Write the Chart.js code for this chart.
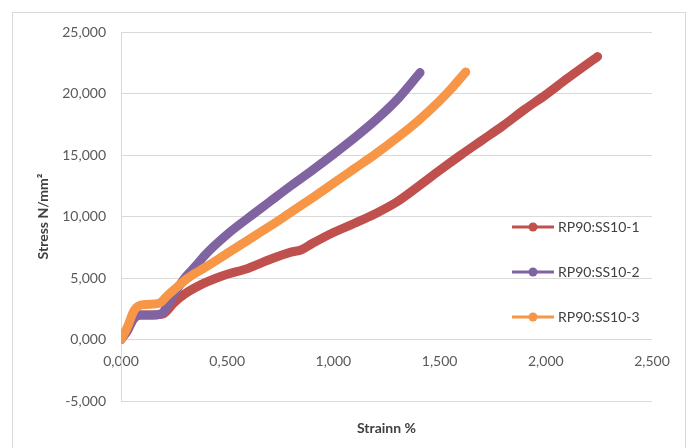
<!DOCTYPE html>
<html>
<head>
<meta charset="utf-8">
<script src="https://cdn.jsdelivr.net/npm/chart.js@4.4.1/dist/chart.umd.min.js"></script>
<style>
  html, body { margin: 0; padding: 0; background: #fff; }
  #wrap { width: 688px; height: 448px; }
</style>
</head>
<body>
<div id="wrap"><canvas id="lineChart" width="688" height="448"></canvas></div>
<script>
// strain (%) and stress (N/mm²)
var strain1 = [0, 0.03, 0.06, 0.09, 0.15, 0.2, 0.25, 0.3, 0.37, 0.45, 0.5, 0.6, 0.7, 0.8, 0.85, 0.9, 1.0, 1.1, 1.2, 1.3, 1.4, 1.5, 1.6, 1.7, 1.8, 1.9, 2.0, 2.1, 2.244];
var stress1 = [0, 0.7, 1.7, 2.0, 2.0, 2.1, 3.0, 3.7, 4.4, 5.0, 5.3, 5.8, 6.5, 7.1, 7.3, 7.8, 8.7, 9.45, 10.25, 11.2, 12.45, 13.75, 15.0, 16.2, 17.4, 18.7, 19.9, 21.2, 23.0];

var strain2 = [0, 0.03, 0.06, 0.09, 0.15, 0.19, 0.22, 0.25, 0.3, 0.35, 0.4, 0.5, 0.6, 0.7, 0.8, 0.9, 1.0, 1.1, 1.2, 1.3, 1.408];
var stress2 = [0, 0.8, 1.7, 2.0, 2.0, 2.1, 2.8, 3.7, 5.0, 5.95, 6.95, 8.55, 9.9, 11.2, 12.5, 13.75, 15.05, 16.4, 17.85, 19.5, 21.7];

var strain3 = [0, 0.03, 0.06, 0.08, 0.12, 0.18, 0.22, 0.26, 0.315, 0.4, 0.5, 0.6, 0.7, 0.77, 0.9, 1.0, 1.1, 1.2, 1.3, 1.4, 1.5, 1.55, 1.623];
var stress3 = [0, 1.0, 2.3, 2.7, 2.85, 2.95, 3.6, 4.2, 5.0, 5.9, 7.0, 8.1, 9.2, 10.0, 11.5, 12.7, 13.9, 15.1, 16.4, 17.8, 19.4, 20.3, 21.75];

var seriesNames = ['RP90:SS10-1', 'RP90:SS10-2', 'RP90:SS10-3'];
var seriesColors = ['#C0504D', '#8064A2', '#F79646'];
var xTitle = 'Strainn %';
var yTitle = 'Stress N/mm²';

function pts(xs, ys) {
    return xs.map(function(x, i) { return {x: x, y: ys[i]}; });
}
function comma(v) {
    return Number(v).toFixed(3).replace('.', ',');
}

var extras = {
    id: 'extras',
    beforeDraw: function(chart) {
        var c = chart.ctx;
        c.save();
        c.strokeStyle = '#d9d9d9';
        c.lineWidth = 1;
        c.strokeRect(12.5, 12.5, 673, 460);
        c.restore();
    },
    afterDraw: function(chart) {
        var c = chart.ctx;
        var area = chart.chartArea;
        c.save();
        // x axis title
        c.fillStyle = '#404040';
        c.font = 'bold 14px Lato';
        c.textAlign = 'center';
        c.textBaseline = 'middle';
        c.fillText(xTitle, (area.left + area.right) / 2, 428);
        // legend
        c.font = '14px Lato';
        c.textAlign = 'left';
        seriesNames.forEach(function(name, i) {
            var y = 227 + i * 45;
            c.strokeStyle = seriesColors[i];
            c.lineWidth = 3;
            c.beginPath();
            c.moveTo(512, y);
            c.lineTo(554, y);
            c.stroke();
            c.fillStyle = seriesColors[i];
            c.beginPath();
            c.arc(533, y, 4.5, 0, Math.PI * 2);
            c.fill();
            c.fillStyle = '#404040';
            c.fillText(name, 558, y);
        });
        c.restore();
    }
};

function makeSet(i, xs, ys, order) {
    return {
        label: seriesNames[i],
        data: pts(xs, ys),
        borderColor: seriesColors[i],
        backgroundColor: seriesColors[i],
        borderWidth: 9,
        borderCapStyle: 'round',
        borderJoinStyle: 'round',
        cubicInterpolationMode: 'monotone',
        pointRadius: 0,
        fill: false,
        order: order
    };
}

var ctx = document.getElementById('lineChart').getContext('2d');
var myChart = new Chart(ctx, {
    type: 'line',
    data: {
        datasets: [
            makeSet(0, strain1, stress1, 3),
            makeSet(1, strain2, stress2, 2),
            makeSet(2, strain3, stress3, 1)
        ]
    },
    plugins: [extras],
    options: {
        responsive: false,
        animation: false,
        layout: {
            padding: { left: 0, right: 36, top: 32, bottom: 47 }
        },
        plugins: {
            legend: { display: false },
            tooltip: { enabled: false }
        },
        scales: {
            x: {
                type: 'linear',
                position: { y: 0 },
                min: 0,
                max: 2.5,
                afterFit: function(s) { s.height = 0; },
                ticks: {
                    stepSize: 0.5,
                    padding: 14,
                    color: '#595959',
                    font: { family: 'Lato', size: 14 },
                    callback: function(v) { return comma(v); }
                },
                grid: { display: false, drawTicks: false },
                border: { display: false }
            },
            y: {
                min: -5,
                max: 25,
                afterFit: function(s) { s.width = 121; },
                ticks: {
                    stepSize: 5,
                    padding: 15,
                    color: '#595959',
                    font: { family: 'Lato', size: 14 },
                    callback: function(v) { return comma(v); }
                },
                grid: { color: '#d9d9d9', lineWidth: 1, drawTicks: false },
                border: { display: true, color: '#d9d9d9' },
                title: {
                    display: true,
                    text: yTitle,
                    color: '#404040',
                    font: { family: 'Lato', size: 14, weight: 'bold' },
                    padding: { top: 35, bottom: 0 }
                }
            }
        }
    }
});
</script>
</body>
</html>
